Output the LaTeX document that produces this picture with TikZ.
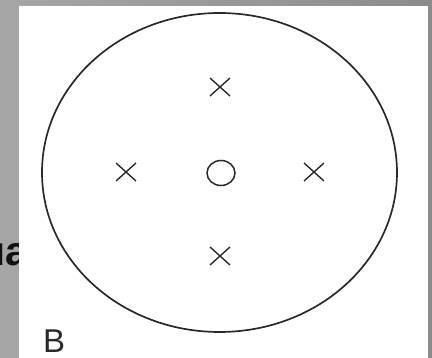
\documentclass[tikz,border=0pt]{standalone}
\usepackage{fontspec}
\setmainfont{Liberation Sans}
\usepackage{tikz}
\usetikzlibrary{shapes.misc,shapes.geometric,positioning}
\definecolor{frameleft}{HTML}{A6A6A6}
\definecolor{frameright}{HTML}{8C8C8C}
\definecolor{ink}{HTML}{2A2A2A}
\definecolor{cutink}{HTML}{111111}

\begin{document}
\begin{tikzpicture}[x=1pt,y=-1pt, every node/.style={inner sep=0pt,outer sep=0pt},
  crossmark/.style={draw=ink,line width=1.4pt,cross out,minimum width=20pt,minimum height=18pt}]
\useasboundingbox (0,0) rectangle (432,358);
\shade[left color=frameleft,right color=frameright] (0,0) rectangle (432,358);
\node[anchor=base east,text=cutink,font=\fontsize{41}{41}\selectfont\bfseries] (cuttext) at (28,266) {ua};
\fill[white] (19,6) rectangle (428,358);
\draw[ink,line width=1.7pt] (219.5,172.5) ellipse [x radius=177.5,y radius=159.5];
\node[draw=ink,line width=1.5pt,ellipse,minimum width=28pt,minimum height=25pt] (centre) at (221,173) {};
\node[crossmark] (top) at (220,87) {};
\node[crossmark] (left) at (126,172) {};
\node[crossmark] (right) at (314,172) {};
\node[crossmark] (bottom) at (220,256) {};
\node[anchor=base west,text=ink,font=\fontsize{33}{33}\selectfont] (label) at (43,353) {B};
\end{tikzpicture}
\end{document}
